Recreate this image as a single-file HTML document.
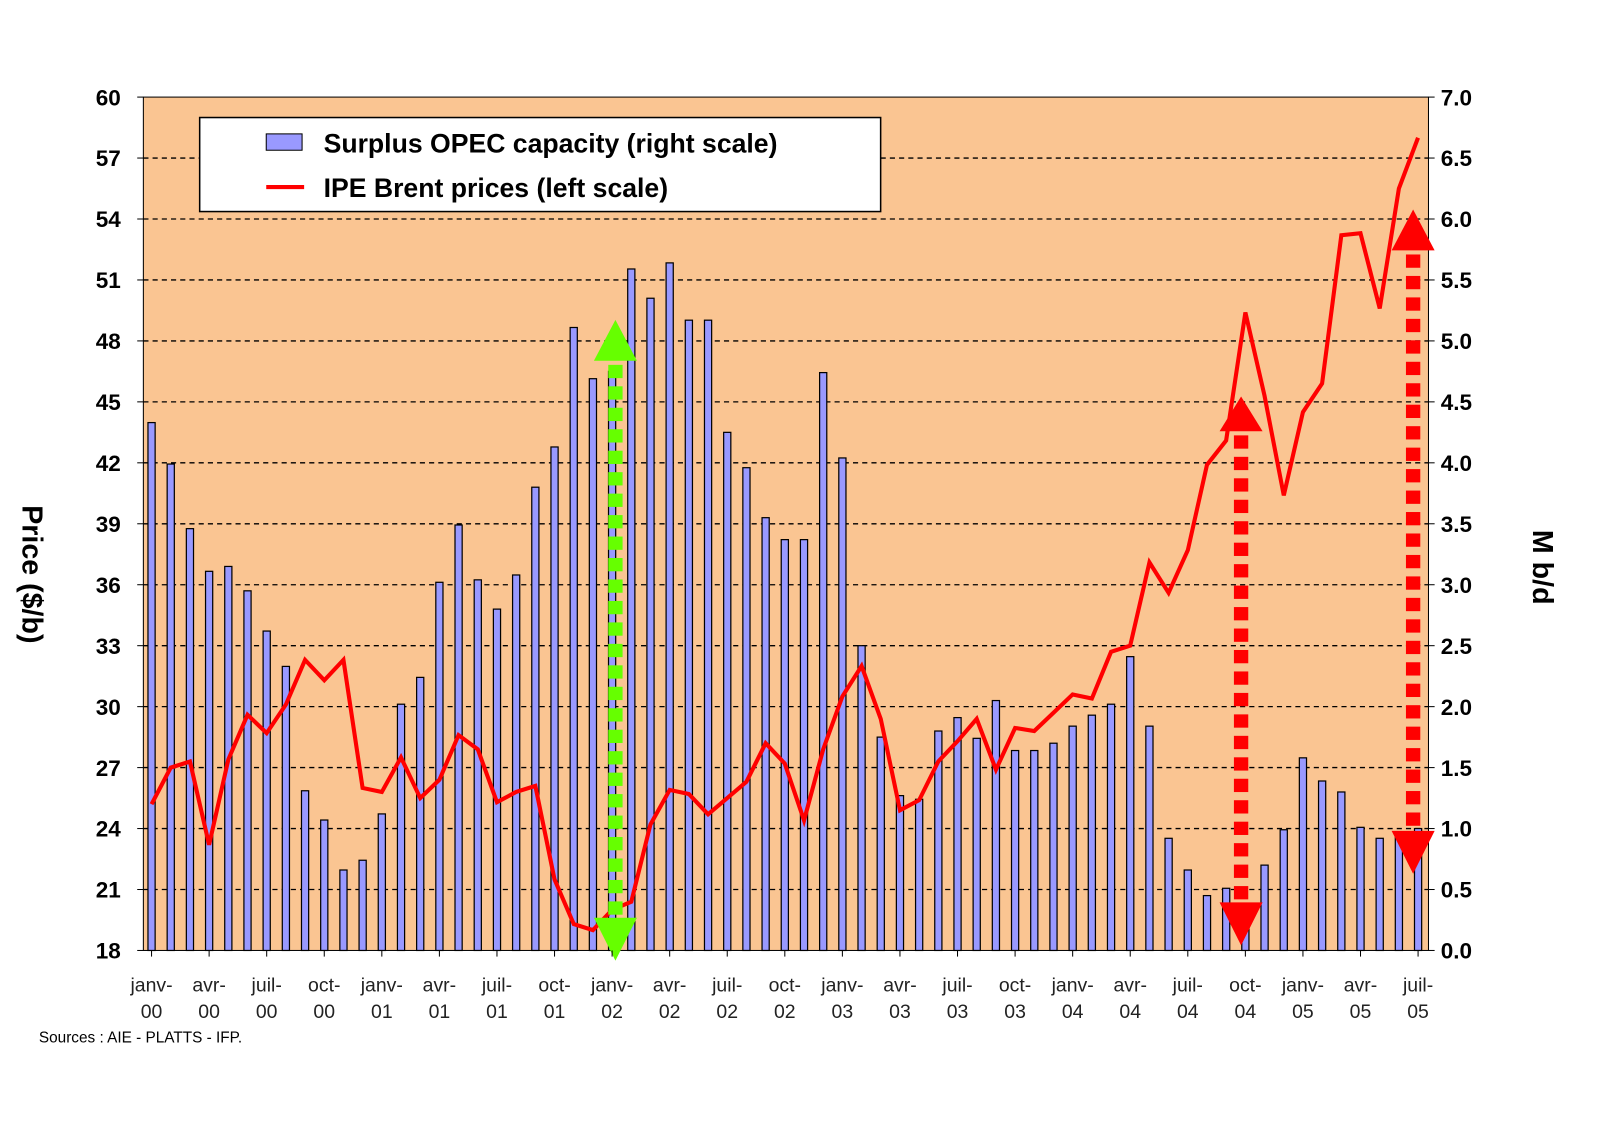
<!DOCTYPE html>
<html><head><meta charset="utf-8"><style>
html,body{margin:0;padding:0;background:#fff;}
svg{display:block;font-family:"Liberation Sans",Arial,sans-serif;}
</style></head><body>
<svg id="chart" width="1600" height="1130" viewBox="0 0 1600 1130" xmlns="http://www.w3.org/2000/svg">
<g transform="scale(1.024,1.022)">
<rect x="140" y="95" width="1255" height="835" fill="#FAC592" stroke="#000" stroke-width="1"/>
<g id="grid"></g>
<g id="bars"></g>
<g id="line"></g>
<g id="arrows"></g>
<g id="axes"></g>
<g>
<rect x="195" y="115" width="665" height="92" fill="#fff" stroke="#000" stroke-width="1.5"/>
<rect x="260" y="131" width="35" height="16" fill="#9999FF" stroke="#000" stroke-width="1"/>
<text x="316" y="149" font-size="26" font-weight="bold">Surplus OPEC capacity (right scale)</text>
<line x1="260" y1="183" x2="297" y2="183" stroke="#FF0000" stroke-width="4"/>
<text x="316" y="193" font-size="26" font-weight="bold">IPE Brent prices (left scale)</text>
</g>
<text transform="translate(22,562) rotate(90)" text-anchor="middle" font-size="28" font-weight="bold">Price ($/b)</text>
<text transform="translate(1497,555) rotate(90)" text-anchor="middle" font-size="28" font-weight="bold">M b/d</text>
<text x="38" y="1020" font-size="15">Sources : AIE - PLATTS - IFP.</text>
</g>
</svg>
<script>
const months = ["janv-00","févr-00","mars-00","avr-00","mai-00","juin-00","juil-00","août-00","sept-00","oct-00","nov-00","déc-00",
"janv-01","févr-01","mars-01","avr-01","mai-01","juin-01","juil-01","août-01","sept-01","oct-01","nov-01","déc-01",
"janv-02","févr-02","mars-02","avr-02","mai-02","juin-02","juil-02","août-02","sept-02","oct-02","nov-02","déc-02",
"janv-03","févr-03","mars-03","avr-03","mai-03","juin-03","juil-03","août-03","sept-03","oct-03","nov-03","déc-03",
"janv-04","févr-04","mars-04","avr-04","mai-04","juin-04","juil-04","août-04","sept-04","oct-04","nov-04","déc-04",
"janv-05","févr-05","mars-05","avr-05","mai-05","juin-05","juil-05"];
const surplus = [4.33,3.99,3.46,3.11,3.15,2.95,2.62,2.33,1.31,1.07,0.66,0.74,
1.12,2.02,2.24,3.02,3.49,3.04,2.80,3.08,3.80,4.13,5.11,4.69,
4.75,5.59,5.35,5.64,5.17,5.17,4.25,3.96,3.55,3.37,3.37,4.74,
4.04,2.50,1.75,1.27,1.24,1.80,1.91,1.74,2.05,1.64,1.64,1.70,
1.84,1.93,2.02,2.41,1.84,0.92,0.66,0.45,0.51,0.30,0.70,0.99,
1.58,1.39,1.30,1.01,0.92,0.95,1.00];
const brent = [25.2,27.0,27.3,23.2,27.4,29.6,28.7,30.1,32.3,31.3,32.3,26.0,
25.8,27.5,25.5,26.4,28.6,27.9,25.3,25.8,26.1,21.5,19.3,19.0,
20.0,20.4,24.2,25.9,25.7,24.7,25.5,26.3,28.2,27.2,24.4,27.9,
30.5,32.0,29.4,24.9,25.4,27.3,28.3,29.4,26.9,28.95,28.8,29.7,
30.6,30.4,32.7,33.0,37.1,35.6,37.7,41.9,43.1,49.4,45.3,40.4,
44.5,45.9,53.2,53.3,49.6,55.5,58.0];
const leftTicks = [18,21,24,27,30,33,36,39,42,45,48,51,54,57,60];
const rightTicks = ["0.0","0.5","1.0","1.5","2.0","2.5","3.0","3.5","4.0","4.5","5.0","5.5","6.0","6.5","7.0"];
const xLabelsTop = ["janv-","avr-","juil-","oct-"];

const NS="http://www.w3.org/2000/svg";
const X0=148, DX=18.74, TOP=95, BOT=930;
const xAt=i=>X0+i*DX;
const yL=v=>BOT-(v-18)/(60-18)*(BOT-TOP);
const yR=v=>BOT-v/7*(BOT-TOP);
function mk(tag,attrs,parent){const e=document.createElementNS(NS,tag);for(const k in attrs)e.setAttribute(k,attrs[k]);parent.appendChild(e);return e;}

const grid=document.getElementById('grid'), axes=document.getElementById('axes');
leftTicks.forEach((t,i)=>{
  const y=yL(t);
  if(i>0&&i<leftTicks.length-1){
    const g=mk('line',{x1:140,x2:1395,y1:y,y2:y,stroke:'#000','stroke-width':1.3,'stroke-dasharray':'5,4'},grid);
    
    
  }
  mk('line',{x1:134,x2:140,y1:y,y2:y,stroke:'#000'},axes);
  mk('line',{x1:1395,x2:1401,y1:y,y2:y,stroke:'#000'},axes);
  const tl=mk('text',{x:118,y:y+8,'text-anchor':'end','font-size':22,'font-weight':'bold'},axes);
  tl.textContent=t;
  
  
  const tr=mk('text',{x:1407,y:y+8,'font-size':22,'font-weight':'bold'},axes);
  tr.textContent=rightTicks[i];
  
  
});

const bars=document.getElementById('bars');
surplus.forEach((v,i)=>{
  const y=yR(v);
  const b=mk('rect',{x:xAt(i)-3.5,y:y,width:7,height:BOT-y,fill:'#9999FF',stroke:'#000','stroke-width':1.2},bars);
  
  
});

const pts=brent.map((v,i)=>xAt(i).toFixed(1)+','+yL(v).toFixed(1)).join(' ');
const pl=mk('polyline',{points:pts,fill:'none',stroke:'#FF0000','stroke-width':4,'stroke-linejoin':'miter'},document.getElementById('line'));



for(let i=0;i<months.length;i+=3){
  const x=xAt(i);
  mk('line',{x1:x,x2:x,y1:930,y2:936,stroke:'#000'},axes);
  const t=mk('text',{x:x,y:970,'text-anchor':'middle','font-size':19,fill:'#222'},axes);
  t.textContent=xLabelsTop[(i/3)%4];
  
  
  const t2=mk('text',{x:x,y:996,'text-anchor':'middle','font-size':19,fill:'#222'},axes);
  t2.textContent=months[i].slice(-2);
  
  
}

const arrows=document.getElementById('arrows');
function dArrow(name,x,upTip,upBase,downBase,downTip,color,hw){
  const g=mk('g',{},arrows);
  
  
  for(let y=upBase+4;y+13<downBase;y+=21){mk('rect',{x:x-7,y:y,width:14,height:13,fill:color},g);}
  mk('polygon',{points:`${x},${upTip} ${x-hw},${upBase} ${x+hw},${upBase}`,fill:color},g);
  mk('polygon',{points:`${x},${downTip} ${x-hw},${downBase} ${x+hw},${downBase}`,fill:color},g);
}
dArrow('green-arrow-2002',601,313,353,898,940,'#66FF00',21);
dArrow('red-arrow-2004',1212,388,422,883,925,'#FF0000',21);
dArrow('red-arrow-2005',1380,205,245,813,855,'#FF0000',21);
</script>
</body></html>
